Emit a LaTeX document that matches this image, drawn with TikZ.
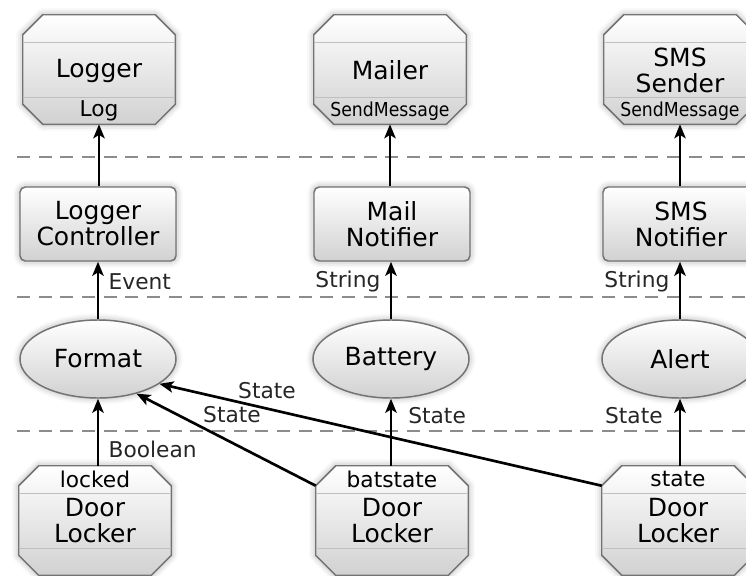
\documentclass[tikz,border=0pt]{standalone}
\usepackage{fontspec}
\setmainfont{DejaVu Sans}
\newfontfamily\condfont{DejaVu Sans Condensed}
\usetikzlibrary{calc,shapes.geometric,arrows.meta,shadows.blur}

\newcommand\bigtxt{\fontsize{18.75}{19.5}\selectfont}
\newcommand\smalltxt{\fontsize{16.3}{18}\selectfont}
\newcommand\msgtxt{\condfont\fontsize{14.4}{16}\selectfont}

\tikzset{
  panel/.style={draw=black!55, line width=1.1pt, top color=white, bottom color=black!18,
    blur shadow={shadow xshift=0pt, shadow yshift=0pt, shadow blur radius=5pt, shadow opacity=35}},
  slot/.style={draw=black!25, line width=0.8pt},
  hull/.style={rectangle, minimum width=114pt, minimum height=81.75pt, inner sep=0pt},
  ctrl/.style={panel, rectangle, rounded corners=4pt, minimum width=117pt, minimum height=55.5pt,
    inner sep=0pt, align=center, font=\bigtxt},
  flow/.style={panel, ellipse, minimum width=117pt, minimum height=58.5pt, inner sep=0pt, font=\bigtxt},
  title/.style={font=\bigtxt, align=center, inner sep=0pt},
  lbl/.style={font=\smalltxt, text=black!85, inner sep=2pt},
  op/.style={font=\msgtxt, inner sep=0pt},
  arr/.style={-{Stealth[length=10.5pt,width=8.5pt,inset=2.5pt]}, line width=2pt},
  tier/.style={draw=black!45, line width=1.5pt, dash pattern=on 9.75pt off 6.5pt}
}

% octagon with two compartment lines around an invisible hull node
\newcommand\octoframe[1]{%
  \draw[panel] ($(#1.north west)+(20,0)$) -- ($(#1.north east)+(-20,0)$)
    -- ($(#1.north east)+(0,20)$) -- ($(#1.south east)+(0,-20)$)
    -- ($(#1.south east)+(-20,0)$) -- ($(#1.south west)+(20,0)$)
    -- ($(#1.south west)+(0,-20)$) -- ($(#1.north west)+(0,20)$) -- cycle;
  \draw[slot] ($(#1.north west)+(0,27.5)$) -- ($(#1.north east)+(0,27.5)$);
  \draw[slot] ($(#1.south west)+(0,-27)$) -- ($(#1.south east)+(0,-27)$);}

\begin{document}
\begin{tikzpicture}[x=0.75pt,y=-0.75pt]
  \useasboundingbox (0,0) rectangle (746,575);

  % tiers
  \draw[tier] (17,157) -- (746,157);
  \draw[tier] (17,297) -- (746,297);
  \draw[tier] (17,431) -- (746,431);

  % services
  \node[hull] (logger) at (99,69.5) {};
  \node[hull] (mailer) at (390,69.5) {};
  \node[hull] (smssender) at (680,69.5) {};
  \octoframe{logger}
  \octoframe{mailer}
  \octoframe{smssender}
  \node[title] (logger-name) at (99,70.5) {Logger};
  \node[lbl,text=black,inner sep=0pt] (logger-op) at (99,111) {Log};
  \node[title] (mailer-name) at (390,70.5) {Mailer};
  \node[op] (mailer-op) at (390,111) {SendMessage};
  \node[title] (smssender-name) at (680,70.5) {SMS\\Sender};
  \node[op] (smssender-op) at (680,111) {SendMessage};

  % controllers
  \node[ctrl] (loggerctrl) at (98,224) {Logger\\Controller};
  \node[ctrl] (mailnotifier) at (392,224) {Mail\\Notifier};
  \node[ctrl] (smsnotifier) at (681,224) {SMS\\Notifier};

  % flows
  \node[flow] (format) at (98,359) {Format};
  \node[flow] (battery) at (391,359) {Battery};
  \node[flow] (alert) at (680,359) {Alert};

  % door lockers
  \node[hull] (dllocked) at (95,520.5) {};
  \node[hull] (dlbat) at (392,520.5) {};
  \node[hull] (dlstate) at (678,520.5) {};
  \octoframe{dllocked}
  \octoframe{dlbat}
  \octoframe{dlstate}
  \node[lbl,text=black,inner sep=0pt] (dllocked-out) at (95,479.5) {locked};
  \node[title] (dllocked-name) at (95,520.5) {Door\\Locker};
  \node[lbl,text=black,inner sep=0pt] (dlbat-out) at (392,479.5) {batstate};
  \node[title] (dlbat-name) at (392,520.5) {Door\\Locker};
  \node[lbl,text=black,inner sep=0pt] (dlstate-out) at (678,479.5) {state};
  \node[title] (dlstate-name) at (678,520.5) {Door\\Locker};

  \coordinate (batcorner) at ($(dlbat.north west)+(0,20)$);
  \coordinate (statecorner) at ($(dlstate.north west)+(0,20)$);

  % connectors
  \draw[arr] (loggerctrl.north -| logger.south) -- (logger.south);
  \draw[arr] (mailnotifier.north -| mailer.south) -- (mailer.south);
  \draw[arr] (smsnotifier.north -| smssender.south) -- (smssender.south);

  \draw[arr] (format.north) -- node[lbl,right=5pt,pos=0.65] {Event} (format.north |- loggerctrl.south);
  \draw[arr] (battery.north) -- node[lbl,left=5pt,pos=0.65] {String} (battery.north |- mailnotifier.south);
  \draw[arr] (alert.north) -- node[lbl,left=5pt,pos=0.65] {String} (alert.north |- smsnotifier.south);

  \draw[arr] (format.south |- dllocked.north) -- node[lbl,right=5pt,pos=0.25] {Boolean} (format.south);
  \draw[arr] (battery.south |- dlbat.north) -- node[lbl,right=10pt,pos=0.75] {State} (battery.south);
  \draw[arr] (alert.south |- dlstate.north) -- node[lbl,left=10pt,pos=0.75] {State} (alert.south);

  \draw[arr] (batcorner) -- (format.-42);
  \draw[arr] (statecorner) -- (format.-22);
  \node[lbl] (batstatelbl) at (232,415) {State};
  \node[lbl] (statelbl) at (267,391) {State};
\end{tikzpicture}
\end{document}
